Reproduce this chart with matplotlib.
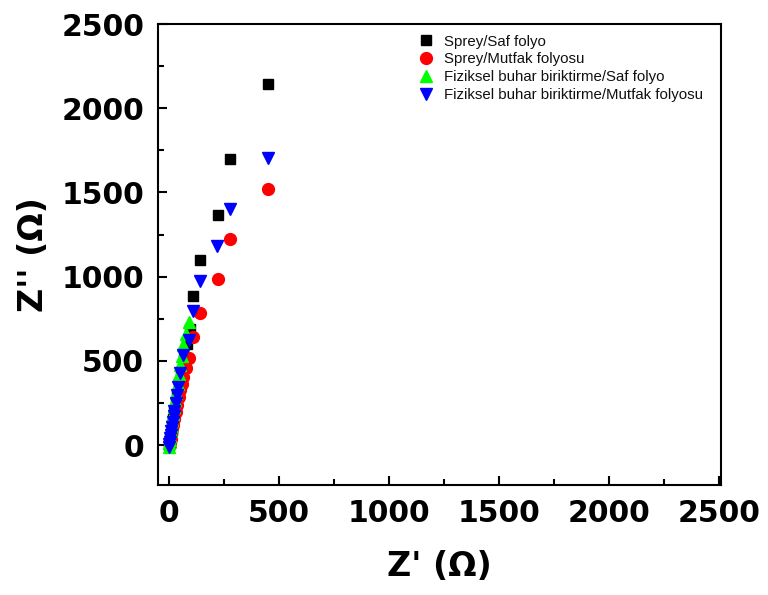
import matplotlib
matplotlib.use("Agg")
import matplotlib.pyplot as plt
from matplotlib.ticker import MultipleLocator

# Sprey/Saf folyo
black_x = [2, 4, 6, 9, 12, 15, 19, 24, 30, 37, 45, 55, 66, 80, 95, 109, 141, 223, 277, 450]
black_y = [0, 15, 35, 60, 90, 120, 155, 195, 245, 300, 360, 430, 510, 600, 692, 888, 1101, 1367, 1698, 2142]

# Sprey/Mutfak folyosu
red_x = [3, 5, 8, 11, 15, 19, 24, 30, 37, 44, 50, 57, 64, 78, 91, 109, 141, 223, 277, 450]
red_y = [0, 15, 35, 60, 90, 120, 155, 195, 240, 285, 325, 360, 402, 460, 515, 639, 787, 988, 1225, 1521]

# Fiziksel buhar biriktirme/Saf folyo
green_x = [0, 2, 4, 6, 9, 12, 15, 19, 23, 28, 33, 39, 45, 50, 57, 64, 78, 91]
green_y = [-10, 10, 30, 55, 85, 115, 150, 185, 225, 265, 310, 360, 420, 473, 530, 592, 660, 728]

# Fiziksel buhar biriktirme/Mutfak folyosu
blue_x = [0, 2, 4, 6, 8, 11, 14, 17, 21, 25, 30, 36, 43, 50, 64, 91, 109, 141, 218, 277, 450]
blue_y = [-10, 5, 20, 40, 60, 85, 110, 140, 170, 205, 250, 300, 343, 426, 533, 621, 799, 976, 1183, 1402, 1704]

labels = ["Sprey/Saf folyo", "Sprey/Mutfak folyosu",
          "Fiziksel buhar biriktirme/Saf folyo",
          "Fiziksel buhar biriktirme/Mutfak folyosu"]

fig = plt.figure(figsize=(7.68, 5.95), dpi=100)
ax = fig.add_axes([158 / 768, 1 - 485 / 595, (721 - 158) / 768, (485 - 24) / 595])

ax.plot(black_x, black_y, "s", color="black", ms=7.5, ls="none", label=labels[0])
ax.plot(red_x, red_y, "o", color="#ff0000", ms=8.5, ls="none", label=labels[1])
ax.plot(green_x, green_y, "^", color="#00ff00", ms=9, ls="none", label=labels[2])
ax.plot(blue_x, blue_y, "v", color="#0000ff", ms=9, ls="none", label=labels[3])

ax.set_xlim(-50, 2510)
ax.set_ylim(-237, 2500)

ax.xaxis.set_major_locator(MultipleLocator(500))
ax.xaxis.set_minor_locator(MultipleLocator(250))
ax.yaxis.set_major_locator(MultipleLocator(500))
ax.yaxis.set_minor_locator(MultipleLocator(250))

ax.tick_params(which="both", direction="in", top=False, right=False, width=1.5)
ax.tick_params(which="major", length=6.5, labelsize=21.5, pad=10)
ax.tick_params(which="minor", length=4)
for lab in ax.get_xticklabels() + ax.get_yticklabels():
    lab.set_fontweight("bold")
for sp in ax.spines.values():
    sp.set_linewidth(1.5)

ax.set_xlabel("Z' (\u03a9)", fontsize=24, fontweight="bold", labelpad=16)
ax.set_ylabel("Z'' (\u03a9)", fontsize=24, fontweight="bold", labelpad=8)

ax.legend(loc="upper left", bbox_to_anchor=(0.463, 0.977), frameon=False,
          prop={"family": "Liberation Sans", "size": 10.8}, handlelength=1,
          handletextpad=0.7, labelspacing=0.25, borderpad=0, borderaxespad=0,
          numpoints=1, labelcolor="#111111")

fig.savefig("out.png", dpi=100)
